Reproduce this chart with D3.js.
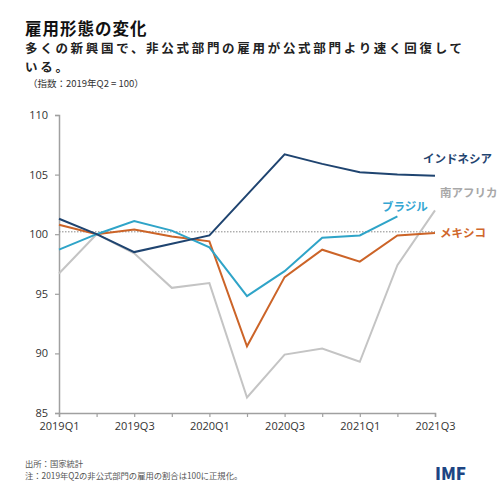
<!DOCTYPE html>
<html lang="ja">
<head>
<meta charset="UTF-8">
<title>雇用形態の変化</title>
<script src="https://cdn.jsdelivr.net/npm/d3@7"></script>
<style>
    body{ margin:0; background:#fff; }
    text{ font-family: "Noto Sans CJK JP", sans-serif; }
    .tick text{ font-family: "Open Sans", "Liberation Sans", sans-serif; font-size:11px; fill:#333; }
</style>
</head>
<body>
<div id="chart"></div>
<script>
    // data
    const quarters = ["2019Q1","2019Q2","2019Q3","2019Q4","2020Q1","2020Q2","2020Q3","2020Q4","2021Q1","2021Q2","2021Q3"];
    const indonesia   = [101.3, 100, 98.5, 99.2, 99.9, 103.3, 106.7, 105.9, 105.2, 105.0, 104.9];
    const brazil      = [98.7, 100, 101.1, 100.3, 98.9, 94.8, 96.9, 99.7, 99.9, 101.5, null];
    const mexico      = [100.8, 100, 100.4, 99.8, 99.4, 90.6, 96.4, 98.7, 97.7, 99.9, 100.1];
    const southAfrica = [96.7, 100, 98.4, 95.5, 95.9, 86.3, 89.9, 90.4, 89.3, 97.4, 102.0];
    const yTicks = [85, 90, 95, 100, 105, 110];
    const refValue = 100.2;
    const subtitleLines = ["多くの新興国で、非公式部門の雇用が公式部門より速く回復して", "いる。"];

    const series = [
        {name:"南アフリカ", values:southAfrica, color:"#c4c4c4", label:"#a8a8a8", lx:440, ly:197},
        {name:"メキシコ",   values:mexico,      color:"#cc6428", label:"#d0672c", lx:440, ly:237},
        {name:"ブラジル",   values:brazil,      color:"#2fa4c8", label:"#35a6d2", lx:382, ly:211},
        {name:"インドネシア", values:indonesia,  color:"#1f4470", label:"#1f4470", lx:423, ly:163}
    ];

    const width = 500, height = 500;
    const m = {left:59, right:65, top:115, bottom:87};

    const svg = d3.select("#chart").append("svg")
        .attr("width", width).attr("height", height);

    const x = d3.scalePoint().domain(quarters).range([m.left, width - m.right]);
    const y = d3.scaleLinear().domain([85, 110]).range([height - m.bottom, m.top]);

    // titles
    svg.append("text").attr("x", 25).attr("y", 34.5)
        .attr("font-size", 16.5).attr("font-weight", "bold").attr("fill", "#111")
        .attr("letter-spacing", 1)
        .text("雇用形態の変化");
    svg.append("text").attr("x", 25).attr("y", 53)
        .attr("font-size", 12.5).attr("font-weight", "bold").attr("fill", "#222")
        .attr("letter-spacing", 2.7)
        .selectAll("tspan").data(subtitleLines).join("tspan")
        .attr("x", 25).attr("dy", (d,i) => i ? 19 : 0)
        .text(d => d);
    svg.append("text").attr("x", 28).attr("y", 87)
        .attr("font-size", 9.5).attr("fill", "#333")
        .text("（指数：2019年Q2 = 100）");

    // axes
    const yAxis = svg.append("g").attr("transform", `translate(${m.left},0)`)
        .call(d3.axisLeft(y).tickValues(yTicks).tickSize(4).tickPadding(7));
    const xAxis = svg.append("g").attr("transform", `translate(0,${height - m.bottom})`)
        .call(d3.axisBottom(x).tickSize(4).tickPadding(5)
            .tickFormat((d,i) => i % 2 === 0 ? d : ""));
    [yAxis, xAxis].forEach(g => {
        g.select(".domain").attr("stroke", "#a0a0a0").attr("stroke-width", 1.5);
        g.selectAll(".tick line").attr("stroke", "#a0a0a0").attr("stroke-width", 1.2);
    });

    // reference line
    svg.append("line")
        .attr("x1", m.left).attr("x2", width - m.right)
        .attr("y1", y(refValue)).attr("y2", y(refValue))
        .attr("stroke", "#888").attr("stroke-width", 1).attr("stroke-dasharray", "1.5,1.5");

    const line = d3.line()
        .defined(d => d != null)
        .x((d,i) => x(quarters[i]))
        .y(d => y(d));

    svg.selectAll(".series").data(series).join("path")
        .attr("class", "series")
        .attr("fill", "none")
        .attr("stroke", d => d.color)
        .attr("stroke-width", 2)
        .attr("d", d => line(d.values));

    svg.selectAll(".lbl").data(series).join("text")
        .attr("class", "lbl")
        .attr("x", d => d.lx).attr("y", d => d.ly)
        .attr("font-size", 11.5).attr("font-weight", "bold")
        .attr("fill", d => d.label)
        .text(d => d.name);

    // footer
    svg.append("text").attr("x", 25).attr("y", 467)
        .attr("font-size", 8.3).attr("fill", "#555").text("出所：国家統計");
    svg.append("text").attr("x", 25).attr("y", 479)
        .attr("font-size", 8.3).attr("fill", "#555").text("注：2019年Q2の非公式部門の雇用の割合は100に正規化。");
    svg.append("text").attr("x", 435).attr("y", 480)
        .attr("font-family", "Roboto, sans-serif")
        .attr("font-size", 17).attr("font-weight", "900").attr("fill", "#1d4583")
        .text("IMF");
</script>
</body>
</html>
